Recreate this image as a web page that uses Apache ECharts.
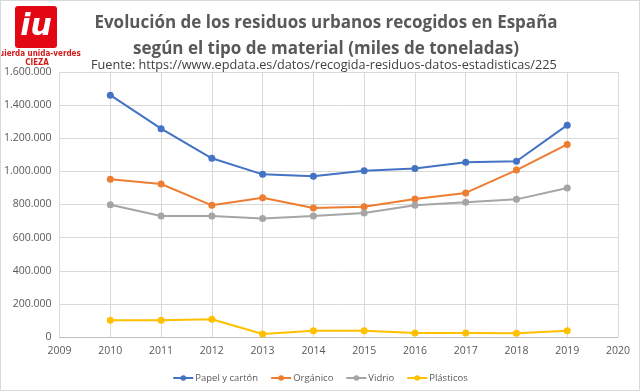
<!DOCTYPE html>
<html><head><meta charset="utf-8">
<script src="https://cdn.jsdelivr.net/npm/echarts@6/dist/echarts.min.js"></script>
<style>
html,body{margin:0;padding:0;background:#fff;}
#c{width:640px;height:391px;box-sizing:border-box;border:1px solid #d9d9d9;}
</style></head><body>
<div id="c"></div>
<script>
const years = [2010,2011,2012,2013,2014,2015,2016,2017,2018,2019];
const papel = [1460000,1258000,1079000,982000,970000,1004000,1018000,1055000,1061000,1279000];
const organico = [952000,924000,795000,841000,779000,787000,833000,870000,1008000,1163000];
const vidrio = [799000,730000,731000,715000,730000,749000,795000,813000,831000,900000];
const plasticos = [101000,101000,107000,18000,38000,38000,24000,24000,22000,38000];
const seriesNames = ['Papel y cartón','Orgánico','Vidrio','Plásticos'];
const colors = ['#4472C4','#ED7D31','#A5A5A5','#FFC000'];
const allData = [papel, organico, vidrio, plasticos];

function fmt(v){ return String(v).replace(/\B(?=(\d{3})+(?!\d))/g,'.'); }

const chart = echarts.init(document.getElementById('c'));
const font = 'Open Sans';
chart.setOption({
  animation:false,
  textStyle:{fontFamily:font},
  title:[
    {text:'Evolución de los residuos urbanos recogidos en España\nsegún el tipo de material (miles de toneladas)',
     left:320, top:4, textAlign:'center',
     textStyle:{fontFamily:font,fontSize:17,fontWeight:'bold',color:'#595959',lineHeight:26}},
    {text:'Fuente: https://www.epdata.es/datos/recogida-residuos-datos-estadisticas/225',
     left:85, top:53,
     textStyle:{fontFamily:font,fontSize:12.7,fontWeight:'normal',color:'#404040'}}
  ],
  graphic:[
    {type:'rect',shape:{x:14,y:5,width:42,height:42,r:3},style:{fill:'#e30613'}},
    {type:'text',style:{x:35,y:26,text:'iu',fill:'#fff',font:'bold italic 30px "DejaVu Sans"',align:'center',verticalAlign:'middle'}},
    {type:'text',style:{x:33,y:53,text:'izquierda unida-verdes',fill:'#d11a1a',font:'bold 8px "Liberation Sans Narrow", "DejaVu Sans Condensed"',align:'center',verticalAlign:'middle'}},
    {type:'text',style:{x:36,y:62,text:'CIEZA',fill:'#d11a1a',font:'bold 8px "DejaVu Sans Condensed"',align:'center',verticalAlign:'middle'}}
  ],
  legend:{
    data:seriesNames, left:'center', top:367, itemWidth:20, itemHeight:7, itemGap:12,
    textStyle:{fontSize:9.5,color:'#595959',fontFamily:font,padding:[0,0,0,-3]}
  },
  grid:{left:52,right:21,top:71,bottom:53,containLabel:false},
  xAxis:{
    type:'value', min:2009, max:2020, interval:1,
    axisLine:{show:true,lineStyle:{color:'#bfbfbf'}},
    axisTick:{show:false},
    axisLabel:{color:'#595959',fontSize:10.5,margin:9,formatter:v=>String(v)},
    splitLine:{show:true,lineStyle:{color:'#d9d9d9'}}
  },
  yAxis:{
    type:'value', min:0, max:1600000, interval:200000,
    axisLine:{show:false}, axisTick:{show:false},
    axisLabel:{color:'#595959',fontSize:10.5,margin:8,formatter:v=>fmt(v)},
    splitLine:{show:true,lineStyle:{color:'#d9d9d9'}}
  },
  series: seriesNames.map((n,i)=>({
    name:n, type:'line', data: years.map((y,j)=>[y, allData[i][j]]),
    symbol:'circle', symbolSize:7, color:colors[i],
    lineStyle:{width:2,color:colors[i]}, itemStyle:{color:colors[i]}
  }))
});
</script>
</body></html>
